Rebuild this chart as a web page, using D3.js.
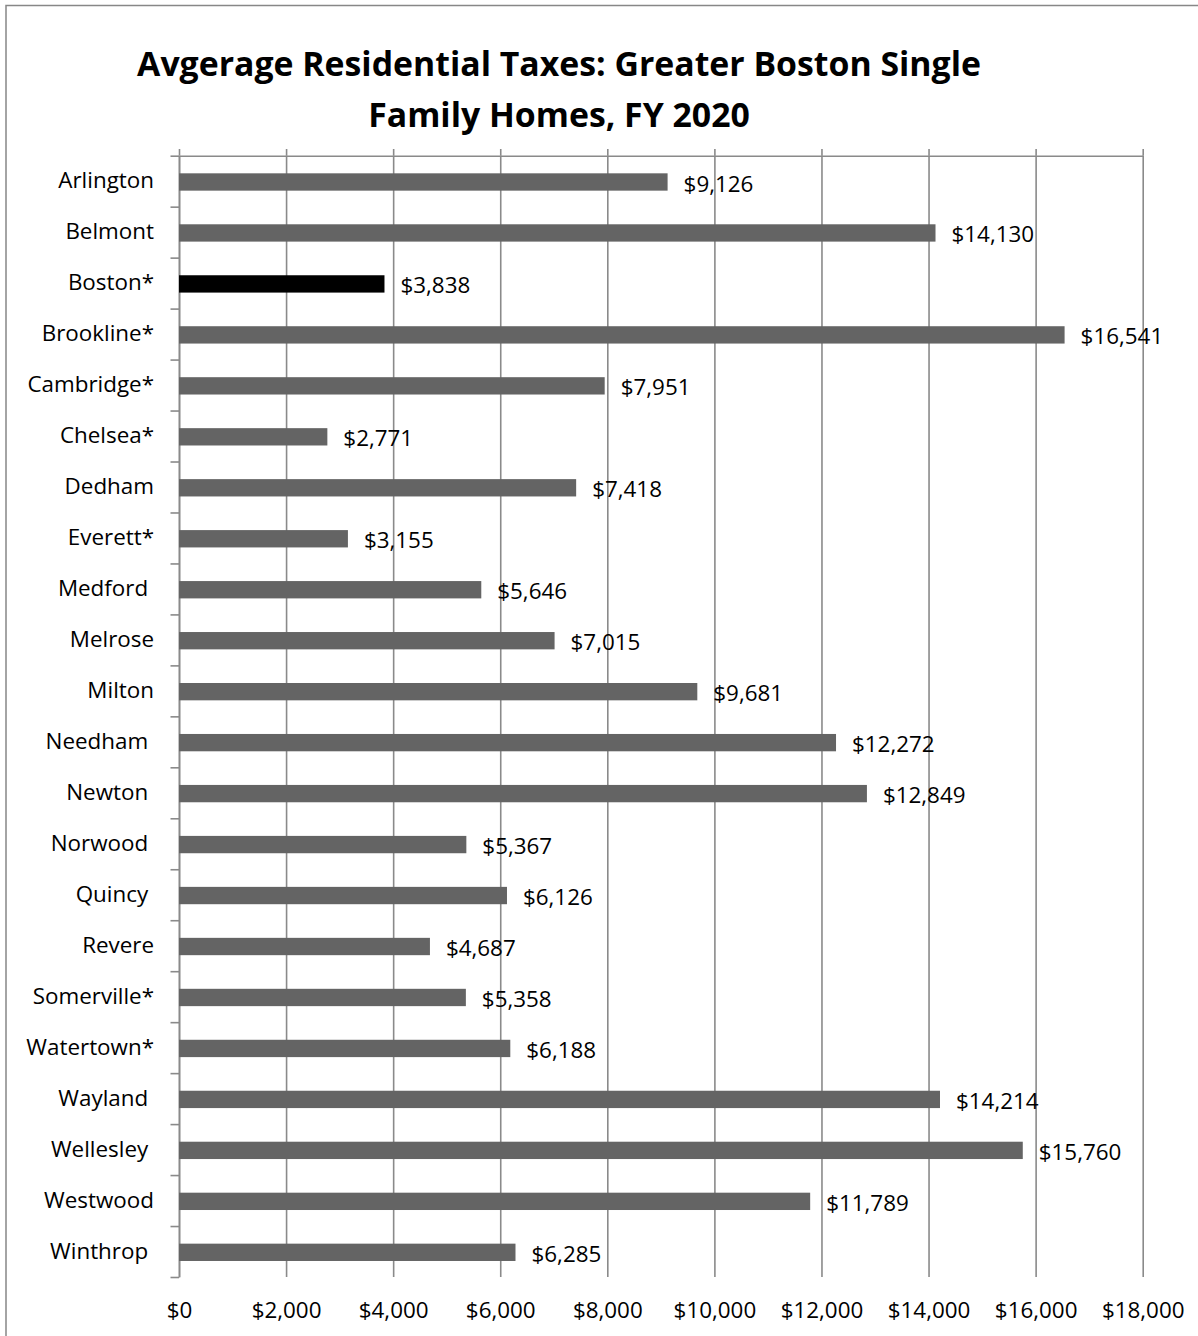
<!DOCTYPE html>
<html>
<head>
<meta charset="utf-8">
<script src="https://cdn.jsdelivr.net/npm/d3@7"></script>
<style>
  body { margin: 0; background: #fff; }
  svg text { font-family: "Open Sans", sans-serif; white-space: pre; }
</style>
</head>
<body>
<svg width="1198" height="1336"></svg>
<script>
// towns (trailing spaces kept as they were in the sheet)
const towns = ["Arlington", "Belmont", "Boston*", "Brookline*", "Cambridge*", "Chelsea*", "Dedham",
  "Everett*", "Medford ", "Melrose", "Milton", "Needham ", "Newton ", "Norwood ", "Quincy ",
  "Revere", "Somerville*", "Watertown*", "Wayland ", "Wellesley ", "Westwood", "Winthrop "];
const taxes = [9126, 14130, 3838, 16541, 7951, 2771, 7418, 3155, 5646, 7015, 9681, 12272,
  12849, 5367, 6126, 4687, 5358, 6188, 14214, 15760, 11789, 6285];
const highlight = ["Boston*"];
const xTicks = [0, 2000, 4000, 6000, 8000, 10000, 12000, 14000, 16000, 18000];
const titleLines = ["Avgerage Residential Taxes: Greater Boston Single", "Family Homes, FY 2020"];

const svg = d3.select('svg');
const fmt = d3.format('$,');

const plotLeft = 179, plotRight = 1142.7, plotTop = 155.7, plotBottom = 1277;

// chart area border (runs off the right and bottom of the picture)
svg.append('rect')
  .attr('x', 6).attr('y', 5.5).attr('width', 1210).attr('height', 1345)
  .attr('fill', 'none').attr('stroke', '#878787').attr('stroke-width', 1.5);

// title
svg.selectAll('.title')
  .data(titleLines)
  .enter().append('text')
  .attr('class', 'title')
  .attr('x', 559)
  .attr('y', (d, i) => 76 + i * 51)
  .attr('text-anchor', 'middle')
  .attr('font-weight', 'bold')
  .attr('font-size', 33.8)
  .attr('fill', '#000')
  .text(d => d);

let x = d3.scaleLinear().domain([0, 18000]).range([plotLeft, plotRight]);
let y = d3.scaleBand().domain(towns).range([plotTop, plotBottom]).paddingInner(0.66).paddingOuter(0.33);
let yEdge = d3.scaleLinear().domain([0, towns.length]).range([plotTop, plotBottom]);

// gridlines + bottom labels
let grid = svg.append('g')
  .attr('transform', `translate(0,${plotBottom})`)
  .call(d3.axisBottom(x).tickValues(xTicks).tickSize(-(plotBottom - plotTop)).tickPadding(25).tickFormat(fmt));
grid.select('.domain').remove();
grid.selectAll('line').attr('stroke', '#8a8a8a').attr('stroke-width', 1.6);
grid.selectAll('text').attr('font-size', 22.4).attr('fill', '#000').attr('font-family', '"Open Sans", sans-serif');

// top value axis (crosses at max category)
let topAxis = svg.append('g')
  .attr('transform', `translate(0,${plotTop})`)
  .call(d3.axisTop(x).tickValues(xTicks).tickSize(6.7).tickSizeOuter(0).tickFormat(''));
topAxis.selectAll('line, path').attr('stroke', '#8a8a8a').attr('stroke-width', 1.6);

// category axis line and tick marks at band edges
let catAxis = svg.append('g')
  .attr('transform', `translate(${plotLeft},0)`)
  .call(d3.axisLeft(yEdge).ticks(towns.length).tickSize(8.5).tickSizeOuter(0).tickFormat(''));
catAxis.selectAll('line, path').attr('stroke', '#8a8a8a').attr('stroke-width', 1.6);

// category labels
let catLabels = svg.append('g')
  .attr('transform', `translate(${plotLeft},0)`)
  .call(d3.axisLeft(y).tickSize(0).tickPadding(25));
catLabels.select('.domain').remove();
catLabels.selectAll('text').attr('font-size', 22.4).attr('fill', '#000').attr('font-family', '"Open Sans", sans-serif');

// bars
svg.append('g').selectAll('rect')
  .data(towns)
  .enter().append('rect')
  .attr('x', x(0))
  .attr('y', d => y(d) + 0.8)
  .attr('width', (d, i) => x(taxes[i]) - x(0))
  .attr('height', y.bandwidth())
  .attr('fill', d => highlight.includes(d) ? '#000000' : '#646464');

// value labels
svg.append('g').selectAll('text')
  .data(towns)
  .enter().append('text')
  .attr('x', (d, i) => x(taxes[i]) + 16)
  .attr('y', d => y(d) + y.bandwidth() / 2 + 2.5)
  .attr('dy', '0.35em')
  .attr('font-size', 22.4)
  .attr('fill', '#000')
  .text((d, i) => fmt(taxes[i]));
</script>
</body>
</html>
